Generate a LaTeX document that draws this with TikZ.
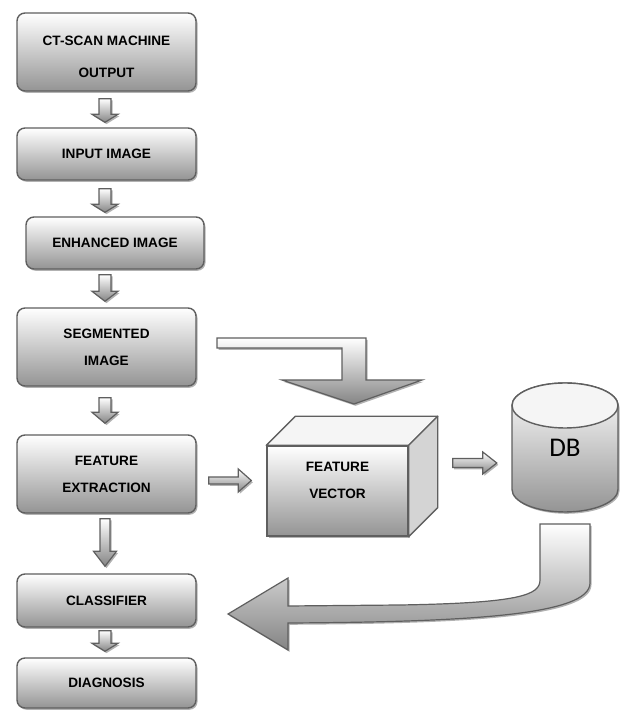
\documentclass[tikz,border=0pt]{standalone}
\usepackage{fontspec}
\setmainfont{Liberation Sans}
\newfontfamily\dbfont{Carlito}
\usetikzlibrary{calc,shadows}
\definecolor{edge}{HTML}{5F5F5F}
% vertical block arrow: from, to, top gap, bottom gap, head length, shaft half, head half
\newcommand\vblk[7]{%
  \coordinate (vt) at ($(#1.south -| ct.south)+(-1.5,-#3)$);
  \coordinate (vb) at ($(#2.north)+(0,#4)$);
  \path[blk] ($(vt)+(-#6,0)$) -- ($(vt)+(#6,0)$) -- ($(vt|-vb)+(#6,#5)$) -- ($(vt|-vb)+(#7,#5)$)
    -- (vt|-vb) -- ($(vt|-vb)+(-#7,#5)$) -- ($(vt|-vb)+(-#6,#5)$) -- cycle;}
% horizontal block arrow: from, to, left gap, right gap, dy, head length, shaft half, head half
\newcommand\hblk[8]{%
  \coordinate (hl) at ($(#1.east)+(#3,#5)$);
  \coordinate (hr) at ($(#2.west)+(-#4,0)$);
  \path[blk] ($(hl)+(0,#7)$) -- ($(hr|-hl)+(-#6,#7)$) -- ($(hr|-hl)+(-#6,#8)$) -- (hr|-hl)
    -- ($(hr|-hl)+(-#6,-#8)$) -- ($(hr|-hl)+(-#6,-#7)$) -- ($(hl)+(0,-#7)$) -- cycle;}
\begin{document}
\begin{tikzpicture}[x=1pt,y=1pt,
  shd/.style={drop shadow={shadow xshift=1.5pt,shadow yshift=-1.8pt,fill=black!30,opacity=1}},
  box/.style={draw=edge, line width=1.4pt, rounded corners=8pt, top color=white, bottom color=black!42,
    shd, minimum width=179pt, align=center, inner sep=0pt,
    font=\bfseries\fontsize{13.6}{27}\selectfont},
  lbl/.style={align=center, inner sep=0pt, font=\bfseries\fontsize{13.6}{27}\selectfont},
  blk/.style={draw=edge, line width=1.2pt, top color=white, bottom color=black!48, shd, line join=miter},
  face/.style={draw=edge, line width=1.4pt, line join=round},
]
\useasboundingbox (0,0) rectangle (622,720);

% left column
\node[box, minimum height=78pt,
  label={[lbl, name=ctl, yshift=-5pt]center:CT-SCAN MACHINE\\[5pt]OUTPUT}] (ct) at (106.5,668) {};
\node[box, minimum height=52pt] (in) at (106.5,566) {INPUT IMAGE};
\node[box, minimum height=52pt, minimum width=178pt] (en) at (115,477) {ENHANCED IMAGE};
\node[box, minimum height=78pt] (seg) at (106.5,373) {SEGMENTED\\IMAGE};
\node[box, minimum height=78pt] (fe) at (106.5,246) {FEATURE\\EXTRACTION};
\node[box, minimum height=53pt] (cl) at (106.5,119.5) {CLASSIFIER};
\node[box, minimum height=50pt] (dg) at (106.5,37) {DIAGNOSIS};

\vblk{ct}{in}{7}{5}{8}{6}{13}
\vblk{in}{en}{8}{4}{8}{6}{13}
\vblk{en}{seg}{5}{6}{10}{6}{13}
\vblk{seg}{fe}{11}{11}{11}{6}{13}
\vblk{fe}{cl}{5}{7}{15}{5}{11.5}
\vblk{cl}{dg}{3}{6}{8}{6}{13}

% feature vector cube
\node[draw=edge, line width=1.4pt, top color=white, bottom color=black!42, shd,
  minimum width=141pt, minimum height=90pt, inner sep=0pt,
  label={[lbl, name=fvl, yshift=10.5pt]center:FEATURE\\VECTOR}] (fv) at (337.5,229) {};
\path[face, fill=black!4] (fv.north west) -- ++(29,29) -- ($(fv.north east)+(29,29)$)
  -- (fv.north east) -- cycle;
\path[face, fill=black!17] (fv.north east) -- ++(29,29) -- ($(fv.south east)+(29,29)$)
  -- (fv.south east) -- cycle;

% database cylinder
\coordinate (dbc) at (565,272.5);
\path[draw=edge, line width=1.4pt, top color=white, bottom color=black!42, shd]
  ($(dbc)+(-53,42)$) -- ($(dbc)+(-53,-42)$)
  arc[start angle=180, end angle=360, x radius=53, y radius=22.5]
  -- ($(dbc)+(53,42)$)
  arc[start angle=0, end angle=180, x radius=53, y radius=22.5] -- cycle;
\path[draw=edge, line width=1.4pt, fill=black!4] ($(dbc)+(0,42)$)
  ellipse[x radius=53, y radius=22.5];
\node[minimum width=106pt, minimum height=129pt, inner sep=0pt,
  font=\dbfont\fontsize{27}{27}\selectfont] (db) at (dbc) {DB};

% horizontal arrows
\hblk{fe}{fv}{12}{15}{-6.5}{13}{3.5}{11.5}
\hblk{fv}{db}{44}{15}{28}{14}{4.5}{11}

% bent arrow from segmented image to the cube
\path[blk] (217,382) -- (366,382) -- (366,340) -- (422,340) -- (354,316) -- (282,340)
  -- (342,340) -- (342,372) -- (217,372) -- cycle;

% U-turn arrow from database to classifier
\path[blk] (540,196) -- (590,196) -- (590,137)
  .. controls (590,105) and (470,98) .. (288,97)
  -- (288,70) -- (228,106) -- (288,142) -- (288,114)
  -- (400,115) .. controls (520,117) and (540,125) .. (540,140) -- cycle;
\end{tikzpicture}
\end{document}
